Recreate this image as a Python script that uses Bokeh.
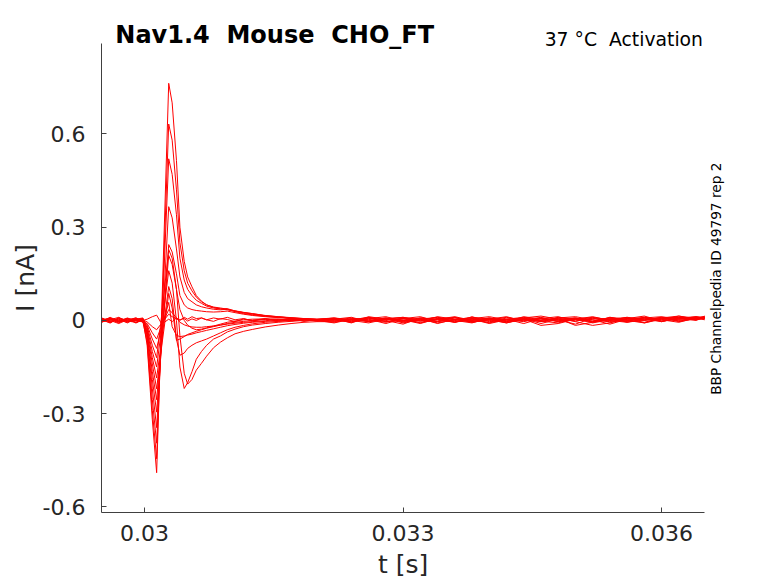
import math
from bokeh.plotting import figure
from bokeh.models import Label, Title, FixedTicker, CustomJSTickFormatter
from bokeh.embed import file_html
from bokeh.resources import INLINE

# time samples [s]
T_BASE = [0.02950, 0.02960, 0.02970, 0.02980, 0.02990, 0.02998]
T_SPIKE = [0.03003, 0.03009, 0.03014, 0.03020, 0.03028, 0.03032, 0.03037, 0.03041,
           0.03046, 0.03050, 0.03055, 0.03060, 0.03066, 0.03072, 0.03080, 0.03088,
           0.03096, 0.03105, 0.03115, 0.03125, 0.03140, 0.03155, 0.03170, 0.03185, 0.03200]
T_TAIL = [0.0322, 0.0324, 0.0326, 0.0328, 0.0330, 0.0332, 0.0334, 0.0336, 0.0338, 0.0340,
          0.0342, 0.0344, 0.0346, 0.0348, 0.0350, 0.0352, 0.0354, 0.0356, 0.0358, 0.0360,
          0.0362, 0.0364, 0.0365]

# current traces [nA] (baseline | spike | tail)
tr01 = [0.008, -0.006, 0.004, -0.008, 0.006, 0.000,
        0.004, 0.012, 0.017, -0.012, 0.004, -0.004, 0.008, 0.000, 0.010, 0.004, 0.012, 0.006, 0.008, 0.002, 0.008, 0.004, 0.010, 0.002, 0.006, -0.002, 0.005, 0.000, 0.007, -0.003, 0.003,
        0.006, -0.008, 0.010, 0.000, -0.012, 0.008, 0.002, -0.006, 0.012, -0.004, 0.004, -0.010, 0.006, 0.012, -0.002, 0.008, -0.006, 0.004, 0.010, -0.004, 0.008, 0.012, 0.010]
tr02 = [-0.004, 0.010, -0.002, 0.006, -0.008, 0.002,
        -0.005, -0.02, -0.03, -0.008, 0.02, 0.012, 0.006, 0.002, 0.006, -0.002, 0.005, 0.0, 0.008, 0.002, -0.003, 0.006, 0.003, -0.004, 0.005, 0.0, 0.006, -0.003, 0.002, 0.005, -0.002,
        0.004, 0.010, -0.004, 0.006, -0.008, 0.002, 0.010, -0.006, 0.004, -0.010, 0.002, 0.008, -0.004, 0.006, -0.016, -0.006, 0.010, 0.000, -0.008, 0.006, 0.010, 0.002, 0.008]
tr03 = [0.002, -0.008, 0.008, 0.000, 0.004, -0.006,
        -0.01, -0.04, -0.06, -0.015, 0.035, 0.025, 0.008, -0.006, -0.014, -0.018, -0.021, -0.022, -0.022, -0.02, -0.018, -0.015, -0.012, -0.009, -0.006, -0.004, -0.001, 0.003, -0.002, 0.004, 0.000,
        -0.006, 0.004, 0.008, -0.004, 0.002, -0.010, 0.006, 0.000, -0.008, 0.008, -0.002, 0.004, -0.016, -0.010, 0.004, -0.004, 0.008, -0.006, 0.002, 0.010, -0.004, 0.006, 0.010]
tr04 = [-0.006, 0.004, -0.004, 0.008, -0.002, 0.004,
        -0.015, -0.06, -0.09, -0.02, 0.058, -0.02, -0.048, -0.052, -0.05, -0.047, -0.044, -0.04, -0.036, -0.032, -0.027, -0.022, -0.017, -0.013, -0.009, -0.006, -0.003, 0.0, 0.003, -0.002, 0.002,
        0.008, -0.002, 0.004, -0.010, 0.006, 0.012, -0.004, 0.002, 0.006, -0.008, 0.004, 0.010, -0.002, -0.008, 0.006, 0.002, -0.012, 0.004, 0.008, -0.002, 0.004, 0.010, 0.006]
tr05 = [0.004, 0.000, -0.010, 0.002, 0.008, -0.004,
        -0.02, -0.08, -0.12, 0.02, 0.228, 0.2, 0.1, -0.05, -0.17, -0.205, -0.19, -0.16, -0.138, -0.115, -0.088, -0.07, -0.056, -0.043, -0.035, -0.029, -0.021, -0.015, -0.01, -0.006, -0.004,
        -0.004, 0.006, -0.002, 0.008, 0.000, -0.006, 0.004, 0.010, -0.004, 0.002, -0.008, 0.006, 0.000, 0.008, -0.004, -0.016, -0.008, 0.006, 0.000, 0.010, -0.002, 0.006, 0.004]
tr06 = [-0.002, 0.006, 0.002, -0.006, 0.004, 0.008,
        -0.025, -0.1, -0.15, -0.02, 0.16, 0.12, 0.0, -0.15, -0.219, -0.2, -0.165, -0.125, -0.1, -0.08, -0.06, -0.05, -0.037, -0.028, -0.02, -0.015, -0.01, -0.006, -0.003, 0.0, 0.002,
        0.002, -0.006, 0.012, 0.004, -0.004, 0.006, -0.010, 0.004, 0.008, 0.000, -0.006, 0.002, 0.010, -0.004, 0.004, 0.012, 0.000, -0.006, 0.006, 0.002, 0.014, 0.004, 0.008]
tr07 = [0.006, -0.004, 0.008, -0.002, -0.006, 0.002,
        -0.03, -0.12, -0.185, -0.06, 0.109, 0.07, -0.06, -0.112, -0.105, -0.09, -0.08, -0.072, -0.066, -0.06, -0.05, -0.04, -0.03, -0.022, -0.016, -0.011, -0.006, -0.003, 0.0, 0.003, -0.002,
        0.006, 0.000, -0.008, 0.004, 0.010, -0.002, 0.006, -0.004, 0.000, 0.008, -0.004, 0.012, 0.004, -0.002, 0.008, -0.006, 0.004, 0.010, -0.008, 0.004, 0.000, 0.008, 0.012]
tr08 = [0.000, 0.008, -0.006, 0.004, 0.002, -0.004,
        -0.035, -0.14, -0.22, -0.08, 0.087, 0.04, -0.064, -0.06, -0.052, -0.045, -0.04, -0.035, -0.03, -0.025, -0.02, -0.015, -0.01, -0.006, -0.003, 0.0, 0.003, 0.004, 0.001, 0.004, 0.0,
        -0.008, 0.004, 0.002, -0.006, 0.008, 0.004, -0.002, 0.010, -0.006, 0.004, 0.012, -0.002, 0.006, 0.002, -0.012, 0.008, 0.004, -0.004, 0.010, 0.002, -0.006, 0.008, 0.002]
tr09 = [-0.004, 0.002, 0.010, -0.004, 0.000, 0.006,
        -0.04, -0.165, -0.255, -0.06, 0.209, 0.18, 0.1, 0.035, 0.0, -0.015, -0.025, -0.03, -0.028, -0.024, -0.018, -0.012, -0.006, -0.002, 0.002, 0.004, 0.005, 0.004, 0.002, 0.004, 0.001,
        0.004, -0.006, 0.006, 0.012, -0.002, 0.004, -0.008, 0.002, 0.010, 0.004, -0.004, 0.006, -0.010, 0.004, 0.008, -0.002, 0.006, 0.000, -0.006, 0.008, 0.004, 0.012, 0.006]
tr10 = [0.008, -0.002, 0.000, 0.006, -0.008, 0.004,
        -0.045, -0.19, -0.295, -0.07, 0.244, 0.22, 0.15, 0.08, 0.05, 0.04, 0.035, 0.032, 0.03, 0.028, 0.027, 0.028, 0.03, 0.025, 0.02, 0.016, 0.012, 0.009, 0.006, 0.004, 0.002,
        0.000, 0.008, -0.004, 0.002, 0.006, -0.008, 0.004, 0.012, 0.000, -0.006, 0.008, 0.002, -0.004, 0.010, 0.004, -0.008, 0.002, 0.006, 0.014, -0.002, 0.006, 0.000, 0.010]
tr11 = [-0.006, 0.006, -0.002, 0.000, 0.008, -0.002,
        -0.05, -0.22, -0.345, -0.05, 0.366, 0.33, 0.23, 0.14, 0.09, 0.07, 0.06, 0.05, 0.044, 0.04, 0.036, 0.034, 0.036, 0.028, 0.022, 0.018, 0.013, 0.01, 0.007, 0.005, 0.003,
        0.006, 0.002, 0.010, -0.004, 0.000, 0.008, 0.004, -0.006, 0.006, 0.012, 0.002, -0.004, 0.008, 0.000, 0.006, -0.004, 0.010, 0.004, 0.000, 0.006, 0.010, 0.004, 0.014]
tr12 = [0.004, -0.008, 0.006, -0.004, 0.002, 0.006,
        -0.06, -0.255, -0.395, -0.01, 0.52, 0.47, 0.34, 0.2, 0.13, 0.1, 0.08, 0.065, 0.055, 0.046, 0.04, 0.037, 0.038, 0.03, 0.025, 0.02, 0.015, 0.011, 0.008, 0.005, 0.003,
        -0.002, 0.004, 0.000, 0.008, -0.006, 0.004, 0.010, 0.002, -0.004, 0.006, 0.000, 0.008, 0.014, 0.004, -0.002, 0.006, 0.000, 0.010, 0.004, -0.004, 0.008, 0.002, 0.012]
tr13 = [-0.002, 0.004, -0.008, 0.006, 0.000, -0.004,
        -0.07, -0.29, -0.445, 0.01, 0.632, 0.58, 0.42, 0.25, 0.16, 0.12, 0.095, 0.075, 0.06, 0.05, 0.043, 0.04, 0.036, 0.031, 0.026, 0.022, 0.016, 0.012, 0.009, 0.006, 0.004,
        0.004, -0.004, 0.008, 0.002, 0.006, -0.002, 0.012, 0.004, -0.006, 0.002, 0.010, 0.000, 0.006, -0.004, 0.004, 0.010, 0.002, -0.002, 0.008, 0.012, 0.004, 0.010, 0.008]
tr14 = [0.002, 0.006, -0.004, 0.002, -0.006, 0.004,
        -0.08, -0.32, -0.49, 0.04, 0.763, 0.70, 0.515, 0.30, 0.19, 0.14, 0.108, 0.08, 0.062, 0.05, 0.042, 0.037, 0.034, 0.03, 0.025, 0.022, 0.015, 0.012, 0.008, 0.006, 0.004,
        0.008, 0.002, -0.004, 0.006, 0.010, 0.000, -0.004, 0.008, 0.002, 0.006, -0.008, 0.004, 0.000, 0.008, 0.012, 0.002, -0.004, 0.006, 0.002, 0.008, 0.014, 0.006, 0.010]

TRACES = [tr01, tr02, tr03, tr04, tr05, tr06, tr07, tr08, tr09, tr10, tr11, tr12, tr13, tr14]

X_TICKS = [0.030, 0.033, 0.036]
Y_TICKS = [-0.6, -0.3, 0.0, 0.3, 0.6]
X_AXIS = (0.0295, 0.0365)     # visible extent of the time axis
Y_AXIS = (-0.618, 0.891)      # visible extent of the current axis

# the original uses double spaces; a no-break space keeps them visible in SVG
TITLE = "Nav1.4\u00a0 Mouse\u00a0 CHO_FT"
SUBTITLE = "37 \u00b0C\u00a0 Activation"
SIDE = "BBP Channelpedia ID 49797 rep 2"
XLABEL = "t [s]"
YLABEL = "I [nA]"

T = T_BASE + T_SPIKE + T_TAIL

FONT = "DejaVu Sans"
AX = "#404040"
TXT = "#262626"

# layout (px)
W, H = 770, 583
BL, BR, BT, BB = 101, 30, 8, 71
FW, FH = W - BL - BR, H - BT - BB
PX_PER_S = 86167.0
PX_PER_NA = 310.8
x_end = X_AXIS[0] + FW / PX_PER_S
y_end = Y_AXIS[0] + FH / PX_PER_NA
# axis titles are centred on the drawn axes (not on the enlarged frame)
LABEL_PX = 25
XLABEL_W = 2.011 * LABEL_PX   # approx. width of "t [s]"
YLABEL_W = 2.711 * LABEL_PX   # approx. width of "I [nA]"
x_label_off = (X_AXIS[1] - X_AXIS[0]) / 2 * PX_PER_S - XLABEL_W / 2
y_label_off = (Y_AXIS[1] - Y_AXIS[0]) / 2 * PX_PER_NA - YLABEL_W / 2

p = figure(width=W, height=H, x_range=(X_AXIS[0], x_end), y_range=(Y_AXIS[0], y_end),
           toolbar_location=None, output_backend="svg", title=None,
           min_border_left=BL, min_border_right=BR, min_border_top=BT, min_border_bottom=BB)
p.xgrid.visible = False
p.ygrid.visible = False
p.outline_line_color = None
p.background_fill_color = "white"
p.border_fill_color = "white"

for tr in TRACES:
    p.line(T, tr, line_color="#ff0000", line_width=1)

p.xaxis.ticker = FixedTicker(ticks=X_TICKS)
p.yaxis.ticker = FixedTicker(ticks=Y_TICKS)
p.xaxis.formatter = CustomJSTickFormatter(code="return tick.toString();")
p.yaxis.formatter = CustomJSTickFormatter(code="return tick.toString();")
p.xaxis.bounds = X_AXIS
p.yaxis.bounds = Y_AXIS
for ax in (p.xaxis[0], p.yaxis[0]):
    ax.major_tick_in = 5
    ax.major_tick_out = 0
    ax.minor_tick_in = 0
    ax.minor_tick_out = 0
    ax.axis_line_color = AX
    ax.major_tick_line_color = AX
    ax.major_label_text_font = FONT
    ax.major_label_text_font_size = "22px"
    ax.major_label_text_color = TXT
p.xaxis.major_label_standoff = 12
p.yaxis.major_label_standoff = 16

p.add_layout(Title(text=XLABEL, align="left", offset=x_label_off, standoff=8,
                   text_font=FONT, text_font_size="%dpx" % LABEL_PX, text_font_style="normal",
                   text_color=TXT), "below")
p.add_layout(Title(text=YLABEL, align="left", offset=y_label_off, standoff=0,
                   text_font=FONT, text_font_size="%dpx" % LABEL_PX, text_font_style="normal",
                   text_color=TXT), "left")

p.add_layout(Label(x=13.8, y=478, x_units="screen", y_units="screen", text=TITLE,
                   text_font=FONT, text_font_size="24px", text_font_style="bold",
                   text_color="black", text_baseline="alphabetic", text_align="left"))
p.add_layout(Label(x=601.5, y=473, x_units="screen", y_units="screen", text=SUBTITLE,
                   text_font=FONT, text_font_size="18.8px", text_color="black",
                   text_baseline="alphabetic", text_align="right"))
p.add_layout(Label(x=614.5, y=233.8, x_units="screen", y_units="screen", text=SIDE,
                   text_font=FONT, text_font_size="13.7px", text_color="black",
                   text_baseline="alphabetic", text_align="center", angle=math.pi / 2))

open("out.html", "w").write(file_html(p, INLINE))
